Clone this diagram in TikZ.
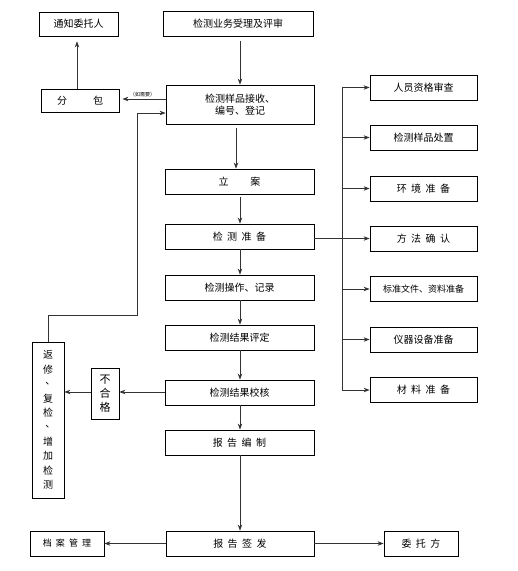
\documentclass[tikz,border=0pt]{standalone}
\usepackage{fontspec}
\setmainfont{Noto Sans CJK SC}
\usetikzlibrary{arrows.meta}
\newcommand\gp{\hspace{0.45em}}
\newcommand\vdun{\hspace{0.5em}\raisebox{0.3em}{、}}
\begin{document}
\begin{tikzpicture}[x=1pt,y=-1pt,
  box/.style={draw=black,line width=0.8pt,inner sep=0pt,font=\fontsize{10}{12}\selectfont,align=center},
  conn/.style={line width=0.8pt,draw=black!80,-{Stealth[length=6pt,width=4.5pt]}},
  plain/.style={line width=0.8pt,draw=black!80}]
\useasboundingbox (0,0) rectangle (518,571);
% main column
\node[box,minimum width=150,minimum height=25] (sl) at (238,23.5) {检测业务受理及评审};
\node[box,minimum width=148,minimum height=39] (js) at (240,104.5) {检测样品接收、\\编号、登记};
\node[box,minimum width=149,minimum height=25] (la) at (239.5,181.5) {立\hspace{2.2em}案};
\node[box,minimum width=149,minimum height=25] (zb) at (239.5,236.5) {检\gp 测\gp 准\gp 备};
\node[box,minimum width=149,minimum height=25] (cz) at (239.5,287.5) {检测操作、记录};
\node[box,minimum width=149,minimum height=25] (pd) at (239.5,337.5) {检测结果评定};
\node[box,minimum width=149,minimum height=25] (jh) at (239.5,392.5) {检测结果校核};
\node[box,minimum width=149,minimum height=25] (bz) at (239.5,442.5) {报\gp 告\gp 编\gp 制};
\node[box,minimum width=148,minimum height=25] (qf) at (240,543.5) {报\gp 告\gp 签\gp 发};
\node[box,minimum width=74,minimum height=25,font=\fontsize{9}{11}\selectfont] (da) at (67,543.5) {档\gp 案\gp 管\gp 理};
\node[box,minimum width=74,minimum height=25] (wt) at (421,543.5) {委\gp 托\gp 方};
% left
\node[box,minimum width=79,minimum height=24] (tz) at (78.5,24) {通知委托人};
\node[box,minimum width=78,minimum height=23] (fb) at (80,100.5) {分\hspace{2.6em}包};
\node[box,minimum width=32,minimum height=156,font=\fontsize{10}{14.4}\selectfont] (fx) at (48,420) {返\\修\\\vdun\\复\\检\\\vdun\\增\\加\\检\\测};
\node[box,minimum width=28,minimum height=51,font=\fontsize{11}{14}\selectfont] (bh) at (105,393.5) {不\\合\\格};
% right
\node[box,minimum width=107,minimum height=25] (r1) at (423.5,87.5) {人员资格审查};
\node[box,minimum width=107,minimum height=25] (r2) at (423.5,137.5) {检测样品处置};
\node[box,minimum width=107,minimum height=25] (r3) at (423.5,188.5) {环\gp 境\gp 准\gp 备};
\node[box,minimum width=107,minimum height=25] (r4) at (423.5,238.5) {方\gp 法\gp 确\gp 认};
\node[box,minimum width=107,minimum height=25,font=\fontsize{9}{11}\selectfont] (r5) at (423.5,289) {标准文件、资料准备};
\node[box,minimum width=107,minimum height=25] (r6) at (423.5,339.5) {仪器设备准备};
\node[box,minimum width=107,minimum height=25] (r7) at (423.5,390) {材\gp 料\gp 准\gp 备};
% bus coordinates
\coordinate (bt) at (342,87.5);
\coordinate (bb) at (342,390);
\coordinate (f1) at (48,315);
\coordinate (f2) at (137,315);
\coordinate (f3) at (137,113);
% connectors main
\draw[conn,shorten <=5pt] (sl.south -| 240,0) -- (js.north -| 240,0);
\draw[conn,shorten <=4pt] (js.south -| 236,0) -- (la.north -| 236,0);
\draw[conn,shorten <=3pt] (la.south -| 240,0) -- (zb.north -| 240,0);
\draw[conn] (zb.south -| 240,0) -- (cz.north -| 240,0);
\draw[conn] (cz.south -| 240,0) -- (pd.north -| 240,0);
\draw[conn] (pd.south -| 240,0) -- (jh.north -| 240,0);
\draw[conn] (jh.south -| 240,0) -- (bz.north -| 240,0);
\draw[conn] (bz.south -| 240,0) -- (qf.north -| 240,0);
\draw[conn] (qf.west) -- (da.east);
\draw[conn] (qf.east) -- (wt.west);
% left connectors
\draw[conn,shorten >=5pt] (fb.north -| 77,0) -- (tz.south -| 77,0);
\draw[conn,shorten >=3pt] (js.west |- 0,99) -- node[above,font=\fontsize{5}{6}\selectfont,inner sep=1.5pt]{（如需要）} (fb.east |- 0,99);
\draw[conn] (fx.north) -- (f1) -- (f2) -- (f3) -- (js.west |- f3);
\draw[conn] (jh.west |- 0,392) -- (bh.east |- 0,392);
\draw[conn] (bh.west |- 0,392) -- (fx.east |- 0,392);
% right connectors
\draw[plain] (bt) -- (bb);
\draw[conn] (zb.east |- r4) -- (r4.west);
\foreach \r in {r1,r2,r3,r5,r6,r7} \draw[conn] (bt |- \r) -- (\r.west);
\end{tikzpicture}
\end{document}
